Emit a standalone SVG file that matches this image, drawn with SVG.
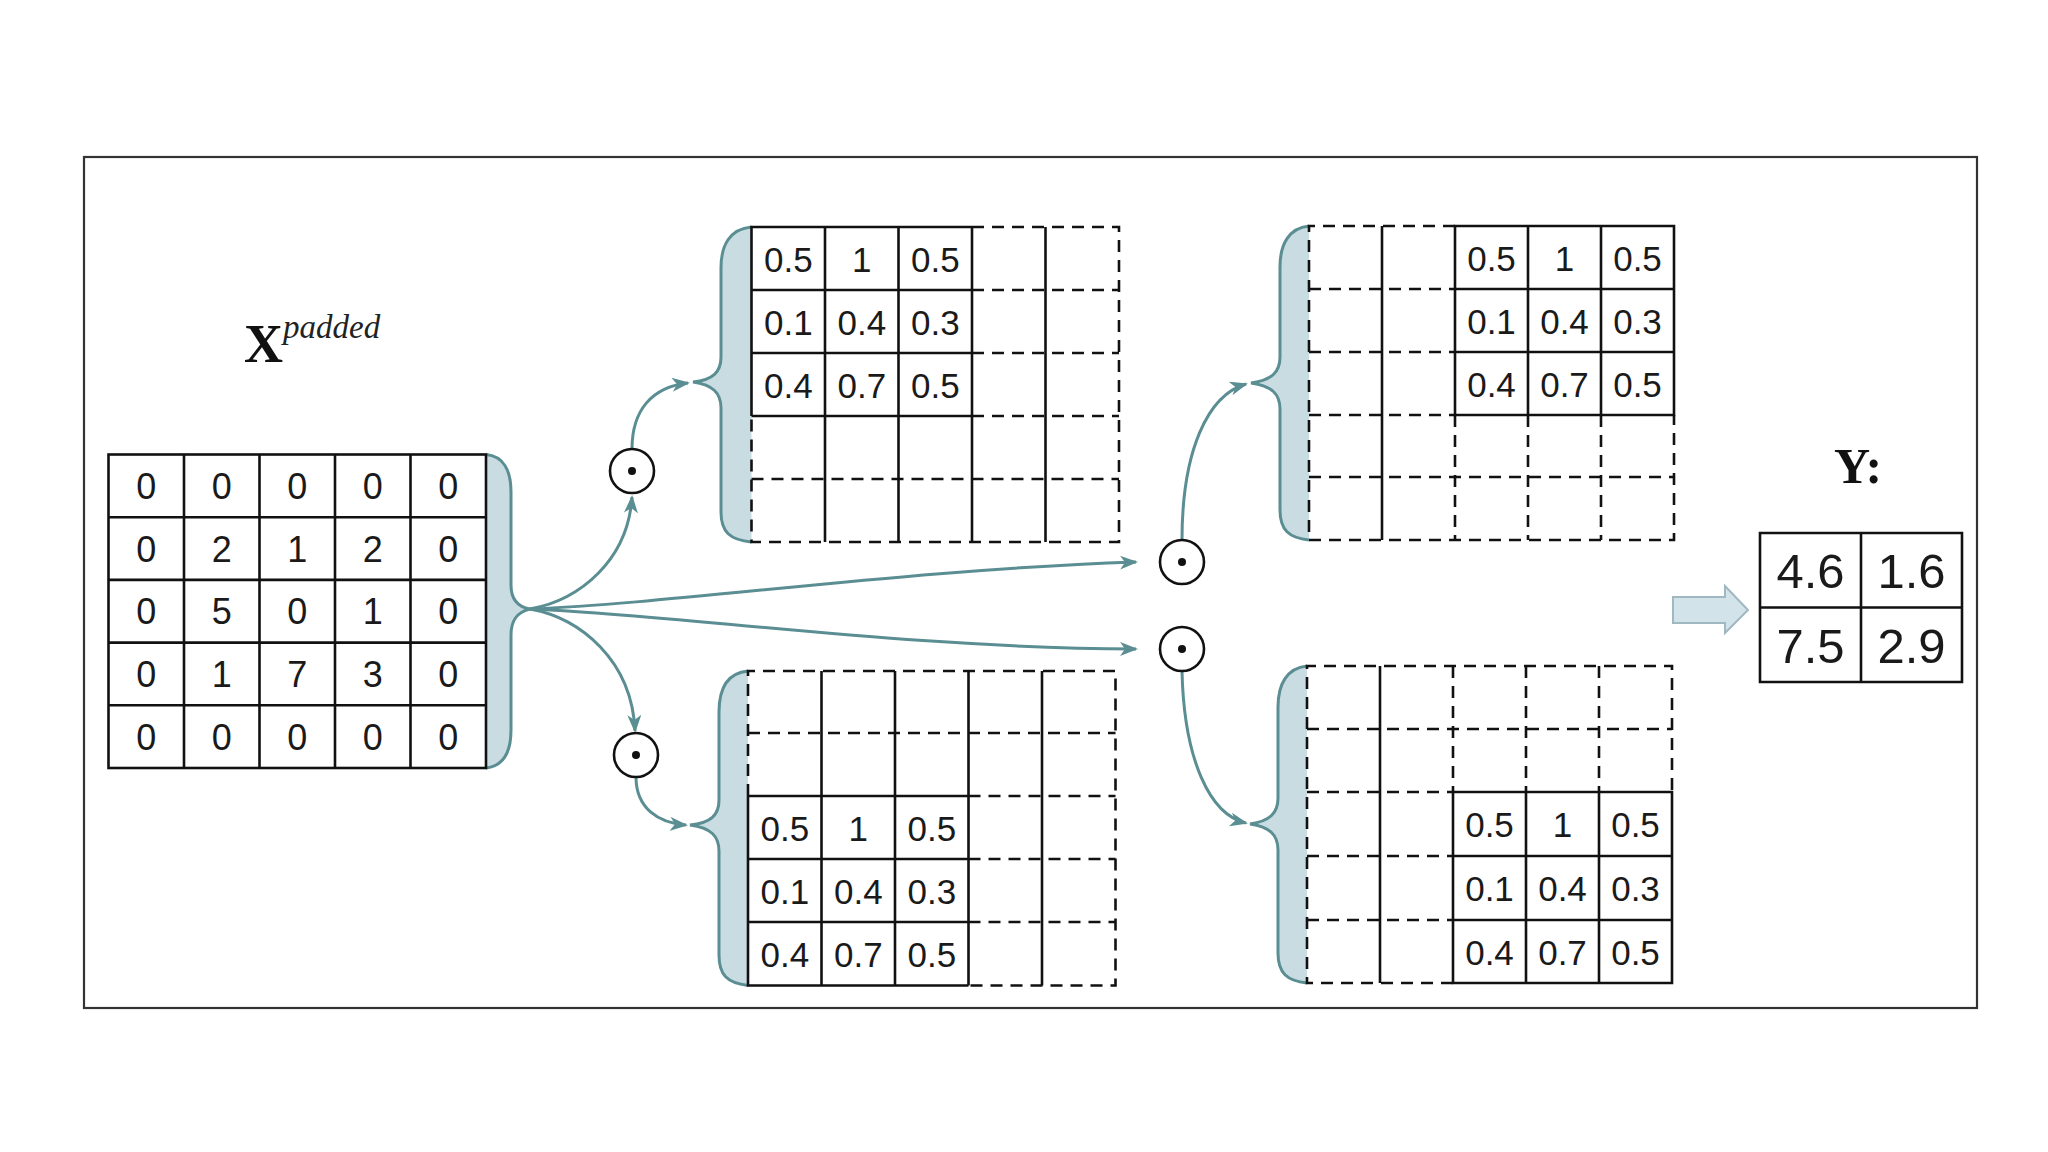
<svg xmlns="http://www.w3.org/2000/svg" width="2048" height="1152" viewBox="0 0 2048 1152">
<defs>
<style>
.s{stroke:#111;stroke-width:2.6;fill:none}
.d{stroke:#111;stroke-width:2.6;fill:none;stroke-dasharray:12 8}
.br{fill:#c9dce2;stroke:#5a8e92;stroke-width:3}
.cn{fill:none;stroke:#5a8e92;stroke-width:3;marker-end:url(#ah)}
.t{font-family:"Liberation Sans",Arial,sans-serif;font-size:35px;fill:#1a1a1a;text-anchor:middle}
.tx{font-family:"Liberation Sans",Arial,sans-serif;font-size:36px;fill:#1a1a1a;text-anchor:middle}
.ty{font-family:"Liberation Sans",Arial,sans-serif;font-size:49px;fill:#1a1a1a;text-anchor:middle}
.op circle.o{fill:#fff;stroke:#111;stroke-width:2.6}
.op circle.p{fill:#111}
</style>
<marker id="ah" viewBox="0 0 18 14" refX="16" refY="7" markerWidth="18" markerHeight="14" orient="auto" markerUnits="userSpaceOnUse">
<path d="M0,0 L18,7 L0,14 L5,7 Z" fill="#5a8e92"/>
</marker>
</defs>
<rect width="2048" height="1152" fill="#fff"/>
<rect x="84" y="157" width="1893" height="851" fill="#fff" stroke="#333" stroke-width="2.2"/>

<g id="label-x">
<text x="244" y="362" font-family="Liberation Serif,serif" font-weight="bold" font-size="54" fill="#111">X</text>
<text x="283" y="338" font-family="Liberation Serif,serif" font-style="italic" font-size="33" fill="#222">padded</text>
</g>
<g id="label-y">
<text x="1834" y="483" font-family="Liberation Serif,serif" font-weight="bold" font-size="50" fill="#111">Y:</text>
</g>

<g id="braces">
<path class="br" d="M486,454.5 C503,456 511,470 511,492 L511,585 C511,600 518,607 530,609 C518,612 511,619 511,635 L511,730 C511,752 503,766 486,768"/>
<path class="br" d="M751.5,227 C730,229 721,245 721,268 L721,357 C721,372 713,380 693,382 C713,385 721,393 721,408 L721,512 C721,532 730,540 751.5,542"/>
<path class="br" d="M748,671 C727,673 719,689 719,712 L719,800 C719,815 711,823 690,825 C711,828 719,836 719,851 L719,955 C719,975 727,983 748,985.5"/>
<path class="br" d="M1309,226 C1289,228 1280,244 1280,267 L1280,357 C1280,372 1272,380 1251,383 C1272,386 1280,394 1280,409 L1280,510 C1280,530 1289,538 1309,540"/>
<path class="br" d="M1307,666 C1287,668 1278,684 1278,707 L1278,798 C1278,813 1270,821 1250,824 C1270,827 1278,835 1278,850 L1278,953 C1278,973 1287,981 1307,983"/>
</g>

<g id="matrix-x">
<g class="s">
<rect x="108.5" y="454.5" width="377.5" height="313.5"/>
<path d="M184,454.5V768M259.5,454.5V768M335,454.5V768M410.5,454.5V768M108.5,517.2H486M108.5,579.9H486M108.5,642.6H486M108.5,705.3H486"/>
</g>
<g class="tx">
<text x="146.3" y="499">0</text><text x="221.8" y="499">0</text><text x="297.3" y="499">0</text><text x="372.8" y="499">0</text><text x="448.3" y="499">0</text>
<text x="146.3" y="561.6">0</text><text x="221.8" y="561.6">2</text><text x="297.3" y="561.6">1</text><text x="372.8" y="561.6">2</text><text x="448.3" y="561.6">0</text>
<text x="146.3" y="624.3">0</text><text x="221.8" y="624.3">5</text><text x="297.3" y="624.3">0</text><text x="372.8" y="624.3">1</text><text x="448.3" y="624.3">0</text>
<text x="146.3" y="687">0</text><text x="221.8" y="687">1</text><text x="297.3" y="687">7</text><text x="372.8" y="687">3</text><text x="448.3" y="687">0</text>
<text x="146.3" y="749.7">0</text><text x="221.8" y="749.7">0</text><text x="297.3" y="749.7">0</text><text x="372.8" y="749.7">0</text><text x="448.3" y="749.7">0</text>
</g>
</g>

<g id="matrix-a">
<path class="d" d="M972,227H1119V542H751.5V416M972,290H1119M972,353H1119M972,416H1119M751.5,479H1119"/>
<path class="s" d="M751.5,416V227H972M751.5,290H972M751.5,353H972M751.5,416H972M825,227V542M898.5,227V542M972,227V542M1045.5,227V542"/>
<g class="t">
<text x="788.3" y="271.5">0.5</text><text x="861.8" y="271.5">1</text><text x="935.3" y="271.5">0.5</text>
<text x="788.3" y="334.5">0.1</text><text x="861.8" y="334.5">0.4</text><text x="935.3" y="334.5">0.3</text>
<text x="788.3" y="397.5">0.4</text><text x="861.8" y="397.5">0.7</text><text x="935.3" y="397.5">0.5</text>
</g>
</g>

<g id="matrix-b">
<path class="d" d="M748,796V671H1115.5V985.5H968.5M748,733H1115.5M968.5,796H1115.5M968.5,859H1115.5M968.5,922H1115.5"/>
<path class="s" d="M748,796V985.5H968.5M748,796H968.5M748,859H968.5M748,922H968.5M821.5,671V985.5M895,671V985.5M968.5,671V985.5M1042,671V985.5"/>
<g class="t">
<text x="784.8" y="840.5">0.5</text><text x="858.3" y="840.5">1</text><text x="931.8" y="840.5">0.5</text>
<text x="784.8" y="903.5">0.1</text><text x="858.3" y="903.5">0.4</text><text x="931.8" y="903.5">0.3</text>
<text x="784.8" y="966.8">0.4</text><text x="858.3" y="966.8">0.7</text><text x="931.8" y="966.8">0.5</text>
</g>
</g>

<g id="matrix-c">
<path class="d" d="M1455,226H1309V540H1674V415M1309,289H1455M1309,352H1455M1309,415H1455M1309,477H1674M1455,415V540M1528,415V540M1601,415V540"/>
<path class="s" d="M1455,226H1674V415H1455ZM1455,289H1674M1455,352H1674M1528,226V415M1601,226V415M1382,226V540"/>
<g class="t">
<text x="1491.5" y="270.5">0.5</text><text x="1564.5" y="270.5">1</text><text x="1637.5" y="270.5">0.5</text>
<text x="1491.5" y="333.5">0.1</text><text x="1564.5" y="333.5">0.4</text><text x="1637.5" y="333.5">0.3</text>
<text x="1491.5" y="396.5">0.4</text><text x="1564.5" y="396.5">0.7</text><text x="1637.5" y="396.5">0.5</text>
</g>
</g>

<g id="matrix-d">
<path class="d" d="M1453,983H1307V666H1672V792M1307,729H1672M1307,792H1453M1307,856H1453M1307,920H1453M1453,666V792M1526,666V792M1599,666V792"/>
<path class="s" d="M1453,792H1672V983H1453ZM1453,856H1672M1453,920H1672M1526,792V983M1599,792V983M1380,666V983"/>
<g class="t">
<text x="1489.5" y="837">0.5</text><text x="1562.5" y="837">1</text><text x="1635.5" y="837">0.5</text>
<text x="1489.5" y="901">0.1</text><text x="1562.5" y="901">0.4</text><text x="1635.5" y="901">0.3</text>
<text x="1489.5" y="964.5">0.4</text><text x="1562.5" y="964.5">0.7</text><text x="1635.5" y="964.5">0.5</text>
</g>
</g>

<g id="matrix-y">
<path class="s" d="M1760,533H1962V682H1760ZM1861,533V682M1760,607.5H1962"/>
<g class="ty">
<text x="1810.5" y="588">4.6</text><text x="1911.5" y="588">1.6</text>
<text x="1810.5" y="663">7.5</text><text x="1911.5" y="663">2.9</text>
</g>
</g>

<g id="result-arrow">
<path d="M1673,597 L1725,597 L1725,586 L1748,610 L1725,633 L1725,623 L1673,623 Z" fill="#d3e3ea" stroke="#9fb8c2" stroke-width="2"/>
</g>

<g id="connectors">
<path class="cn" d="M530,609 C580,600 628,560 632,497"/>
<path class="cn" d="M530,609 C580,618 632,660 635,731"/>
<path class="cn" d="M530,609 C680,603 900,570 1136,562"/>
<path class="cn" d="M530,609 C680,615 900,648 1136,649"/>
<path class="cn" d="M632,449 C632,410 652,387 688,383"/>
<path class="cn" d="M636,777 C636,808 658,823 686,825"/>
<path class="cn" d="M1182,540 C1182,450 1208,395 1246,384"/>
<path class="cn" d="M1182,671 C1184,760 1210,815 1246,823"/>
</g>

<g id="op1" class="op"><circle class="o" cx="632" cy="471" r="22"/><circle class="p" cx="632" cy="471" r="4"/></g>
<g id="op2" class="op"><circle class="o" cx="636" cy="755" r="22"/><circle class="p" cx="636" cy="755" r="4"/></g>
<g id="op3" class="op"><circle class="o" cx="1182" cy="562" r="22"/><circle class="p" cx="1182" cy="562" r="4"/></g>
<g id="op4" class="op"><circle class="o" cx="1182" cy="649" r="22"/><circle class="p" cx="1182" cy="649" r="4"/></g>
</svg>
